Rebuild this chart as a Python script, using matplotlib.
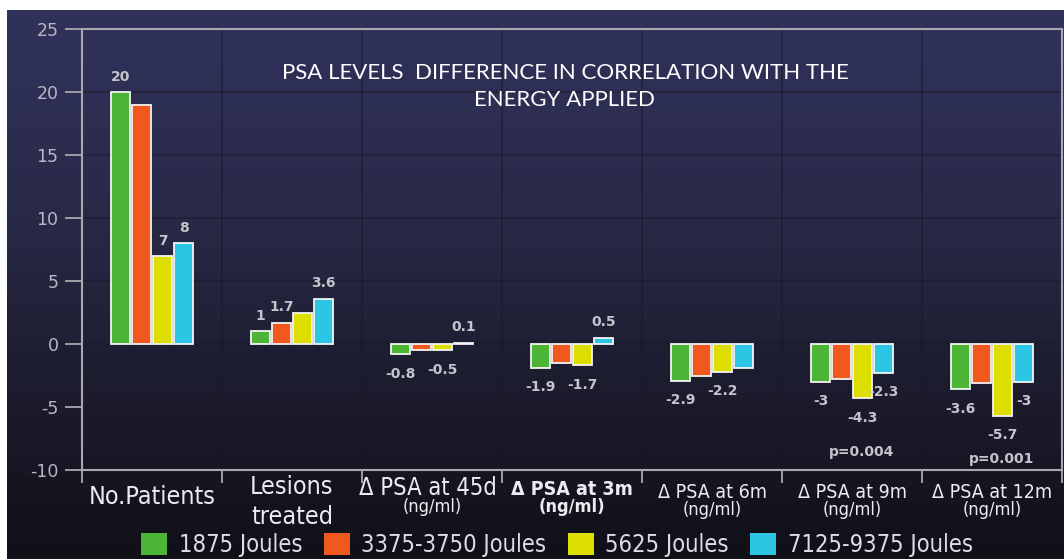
import numpy as np
import matplotlib.pyplot as plt
from matplotlib.colors import LinearSegmentedColormap

# Data
categories = ['No.Patients', 'Lesions\ntreated', 'Δ PSA at 45d', 'Δ PSA at 3m',
              'Δ PSA at 6m', 'Δ PSA at 9m', 'Δ PSA at 12m']
series_names = ['1875 Joules', '3375-3750 Joules', '5625 Joules', '7125-9375 Joules']
s1875 = [20, 1, -0.8, -1.9, -2.9, -3.0, -3.6]
s3375 = [19, 1.7, -0.5, -1.5, -2.5, -2.8, -3.1]
s5625 = [7, 2.5, -0.5, -1.7, -2.2, -4.3, -5.7]
s7125 = [8, 3.6, 0.1, 0.5, -1.9, -2.3, -3.0]
labels1875 = ['20', '1', '-0.8', '-1.9', '-2.9', '-3', '-3.6']
labels3375 = [None, '1.7', None, None, None, None, None]
labels5625 = ['7', None, '-0.5', '-1.7', '-2.2', '-4.3', '-5.7']
labels7125 = ['8', '3.6', '0.1', '0.5', None, '-2.3', '-3']
p_values = {5: 'p=0.004', 6: 'p=0.001'}
p_ypos = {5: -8.6, 6: -9.1}
yticks = [-10, -5, 0, 5, 10, 15, 20, 25]

colors = ['#4db535', '#f0581e', '#dede00', '#2cc6e4']
label_col = '#c4c4cc'
cond = dict(family='DejaVu Sans', stretch='condensed')

fig = plt.figure(figsize=(10.64, 5.59), dpi=100, facecolor='white')

# dark gradient background with a thin white margin at top/left
bg = fig.add_axes([7 / 1064, 0, 1 - 7 / 1064, 1 - 10 / 559])
cmap = LinearSegmentedColormap.from_list('bg', ['#30325c', '#2a2b4a', '#1d1d30', '#101018'])
grad = np.linspace(0, 1, 256).reshape(-1, 1)
bg.imshow(grad, aspect='auto', cmap=cmap, extent=[0, 1, 0, 1])
bg.axis('off')

ax = fig.add_axes([82 / 1064, 1 - 470 / 559, 980 / 1064, 441 / 559])
ax.set_facecolor('none')

x = np.arange(len(categories))
width = 0.132
all_series = [s1875, s3375, s5625, s7125]
all_labels = [labels1875, labels3375, labels5625, labels7125]
for i, (vals, labs) in enumerate(zip(all_series, all_labels)):
    pos = x + (i - 1.5) * (width + 0.018)
    bars = ax.bar(pos, vals, width, color=colors[i], edgecolor='#f4f4f4',
                  linewidth=1.3, label=series_names[i], zorder=3)
    for b, v, lab in zip(bars, vals, labs):
        if lab is None:
            continue
        off = 11 if v >= 0 else -14
        ax.annotate(lab, (b.get_x() + b.get_width() / 2, v), xytext=(0, off),
                    textcoords='offset points', ha='center', va='center',
                    fontsize=10, fontweight='bold', color=label_col, zorder=4)

for k, txt in p_values.items():
    ax.text(x[k] + 0.07, p_ypos[k], txt, ha='center', va='center',
            fontsize=10, fontweight='bold', color=label_col)

ax.set_xlim(-0.5, len(categories) - 0.5)
ax.set_ylim(-10, 25)
ax.set_yticks(yticks)
ax.set_yticklabels([str(t) for t in yticks], fontsize=12.5, color='#b8b8c4')
ax.tick_params(axis='y', length=12, width=1.3, color='#a8a8b0', pad=5)

# category separators
ax.set_xticks(np.arange(len(categories) + 1) - 0.5)
ax.set_xticklabels([])
ax.tick_params(axis='x', length=9, width=1.3, color='#a8a8b0', direction='out')
for sep in np.arange(1, len(categories)) - 0.5:
    ax.axvline(sep, color='#181824', linewidth=1.1, alpha=0.6, zorder=1)
for t in yticks[1:-1]:
    ax.axhline(t, color='#181824', linewidth=1.1, alpha=0.6, zorder=1)

for sp in ax.spines.values():
    sp.set_color('#a8a8b0')
    sp.set_linewidth(1.5)

# category labels
tr = ax.get_xaxis_transform()
big = dict(fontsize=18, color='#ececf0', ha='center', **cond)
mid = dict(fontsize=13, color='#ececf0', ha='center', **cond)
small = dict(fontsize=14, color='#ececf0', ha='center', **cond)
ax.text(x[0], -0.062, 'No.Patients', transform=tr, va='center', **big)
ax.text(x[1], -0.038, 'Lesions', transform=tr, va='center', **big)
ax.text(x[1], -0.106, 'treated', transform=tr, va='center', **big)
ax.text(x[2] - 0.03, -0.04, 'Δ PSA at 45d', transform=tr, va='center',
        **{**big, 'fontsize': 17})
ax.text(x[2], -0.085, '(ng/ml)', transform=tr, va='center', **mid)
ax.text(x[3], -0.044, 'Δ PSA at 3m', transform=tr, va='center', fontweight='bold', **small)
ax.text(x[3], -0.085, '(ng/ml)', transform=tr, va='center', fontweight='bold', **mid)
for k in (4, 5, 6):
    ax.text(x[k], -0.05, categories[k], transform=tr, va='center', **small)
    ax.text(x[k], -0.09, '(ng/ml)', transform=tr, va='center', **mid)

fig.text(565 / 1064, 1 - 73 / 559, 'PSA LEVELS  DIFFERENCE IN CORRELATION WITH THE',
         ha='center', va='center', fontsize=16, color='white', family='Lato')
fig.text(565 / 1064, 1 - 100 / 559, 'ENERGY APPLIED',
         ha='center', va='center', fontsize=16, color='white', family='Lato')

leg = fig.legend(loc='center', bbox_to_anchor=(557 / 1064, 1 - 545 / 559), ncol=4,
                 frameon=False, handlelength=1.1, handleheight=1.1, handletextpad=0.5,
                 columnspacing=0.9, borderpad=0.2, prop=dict(size=17, **cond))
for t in leg.get_texts():
    t.set_color('#dcdce4')
for h in leg.legend_handles:
    h.set_edgecolor('none')

fig.savefig('out.png', dpi=100, facecolor=fig.get_facecolor())
